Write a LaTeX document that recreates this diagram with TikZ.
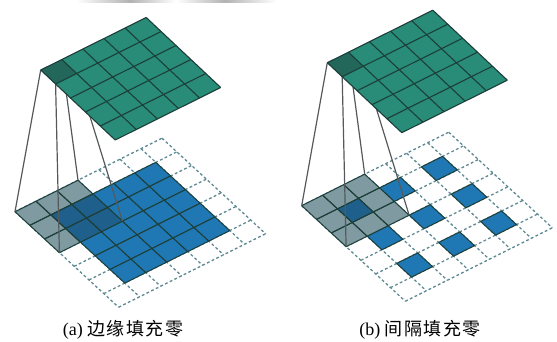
\documentclass[tikz,border=0pt]{standalone}
\usepackage{fontspec}
\setmainfont{Liberation Serif}
\newfontfamily\cjk[LetterSpace=8]{Noto Sans CJK SC}
\definecolor{tealc}{HTML}{288C78}
\definecolor{tealdark}{HTML}{23665A}
\definecolor{bluec}{HTML}{1F77B4}
\definecolor{grayc}{HTML}{7F9AA0}
\definecolor{overlapc}{HTML}{1F5F8B}
\definecolor{dashc}{HTML}{5F8A94}
\definecolor{gridc}{HTML}{1C3F3A}
\definecolor{linkc}{HTML}{55595C}
\tikzset{
  x=1pt,y=-1pt,
  topgrid/.style={draw=gridc,line width=1.1pt,line join=round},
  padgrid/.style={draw=dashc,line width=1.3pt,dash pattern=on 2.8pt off 2.4pt},
  cellline/.style={draw=gridc,line width=1pt,line join=round},
  linkline/.style={draw=linkc,line width=1.2pt},
  caption/.style={anchor=base,font=\fontsize{18}{21}\selectfont,inner sep=0pt}
}
% #1,#2 top grid origin, #3,#4 lower grid origin, #5 list of blue cells, #6 list of dark cells (overlap), #7 name prefix
\newcommand{\panelgrid}[7]{
  \begin{scope}[shift={(#3,#4)}]
    \def\ux{21.0}\def\uy{-10.5}\def\vx{14.8}\def\vy{13.65}
    \foreach \k in {0,...,7}{
      \draw[padgrid] ({\k*\ux},{\k*\uy}) -- ({\k*\ux+7*\vx},{\k*\uy+7*\vy});
      \draw[padgrid] ({\k*\vx},{\k*\vy}) -- ({\k*\vx+7*\ux},{\k*\vy+7*\uy});
    }
    \foreach \i/\j in {#5}{
      \fill[bluec] ({\i*\ux+\j*\vx},{\i*\uy+\j*\vy}) -- ++(\ux,\uy) -- ++(\vx,\vy) -- ++(-\ux,-\uy) -- cycle;
      \draw[cellline] ({\i*\ux+\j*\vx},{\i*\uy+\j*\vy}) -- ++(\ux,\uy) -- ++(\vx,\vy) -- ++(-\ux,-\uy) -- cycle;
    }
    \foreach \i in {0,1,2}\foreach \j in {0,1,2}{
      \fill[grayc] ({\i*\ux+\j*\vx},{\i*\uy+\j*\vy}) -- ++(\ux,\uy) -- ++(\vx,\vy) -- ++(-\ux,-\uy) -- cycle;
    }
    \foreach \i/\j in {#6}{
      \fill[overlapc] ({\i*\ux+\j*\vx},{\i*\uy+\j*\vy}) -- ++(\ux,\uy) -- ++(\vx,\vy) -- ++(-\ux,-\uy) -- cycle;
    }
    \foreach \i in {0,1,2}\foreach \j in {0,1,2}{
      \draw[cellline] ({\i*\ux+\j*\vx},{\i*\uy+\j*\vy}) -- ++(\ux,\uy) -- ++(\vx,\vy) -- ++(-\ux,-\uy) -- cycle;
    }
    \coordinate (#7lowL) at (0,0);
    \coordinate (#7lowT) at ({3*\ux},{3*\uy});
    \coordinate (#7lowB) at ({3*\vx},{3*\vy});
    \coordinate (#7lowR) at ({3*\ux+3*\vx},{3*\uy+3*\vy});
  \end{scope}
  \begin{scope}[shift={(#1,#2)}]
    \def\ux{21.1}\def\uy{-10.5}\def\vx{14.9}\def\vy{14.0}
    \coordinate (#7topL) at (0,0);
    \coordinate (#7topT) at (\ux,\uy);
    \coordinate (#7topB) at (\vx,\vy);
    \coordinate (#7topR) at ({\ux+\vx},{\uy+\vy});
    \draw[linkline] (#7topL) -- (#7lowL);
    \draw[linkline] (#7topB) -- (#7lowB);
    \draw[linkline] (#7topT) -- (#7lowT);
    \draw[linkline] (#7topR) -- (#7lowR);
    \fill[tealc] (0,0) -- ++({5*\ux},{5*\uy}) -- ++({5*\vx},{5*\vy}) -- ++({-5*\ux},{-5*\uy}) -- cycle;
    \fill[tealdark] (0,0) -- ++(\ux,\uy) -- ++(\vx,\vy) -- ++(-\ux,-\uy) -- cycle;
    \foreach \k in {0,...,5}{
      \draw[topgrid] ({\k*\ux},{\k*\uy}) -- ({\k*\ux+5*\vx},{\k*\uy+5*\vy});
      \draw[topgrid] ({\k*\vx},{\k*\vy}) -- ({\k*\vx+5*\ux},{\k*\vy+5*\uy});
    }
  \end{scope}
}
\begin{document}
\begin{tikzpicture}
\useasboundingbox (0,0) rectangle (557,342);
\shade[left color=white,right color=gray!60,draw=none] (76,0) rectangle (130,2.5);
\shade[left color=gray!60,right color=white,draw=none] (130,0) rectangle (176,2.5);
\shade[left color=white,right color=gray!60,draw=none] (176,0) rectangle (225,2.5);
\shade[left color=gray!60,right color=white,draw=none] (225,0) rectangle (276,2.5);
\panelgrid{40.7}{70}{15}{211.7}{1/1,2/1,3/1,4/1,5/1,1/2,2/2,3/2,4/2,5/2,1/3,2/3,3/3,4/3,5/3,1/4,2/4,3/4,4/4,5/4,1/5,2/5,3/5,4/5,5/5}{1/1,2/1,1/2,2/2}{a}
\panelgrid{327.3}{62.7}{301.7}{205.7}{1/1,3/1,5/1,1/3,3/3,5/3,1/5,3/5,5/5}{1/1}{b}
\node[caption] (capa) at (123,335) {(a) {\cjk 边缘填充零}};
\node[caption] (capb) at (420,335) {(b) {\cjk 间隔填充零}};
\end{tikzpicture}
\end{document}
